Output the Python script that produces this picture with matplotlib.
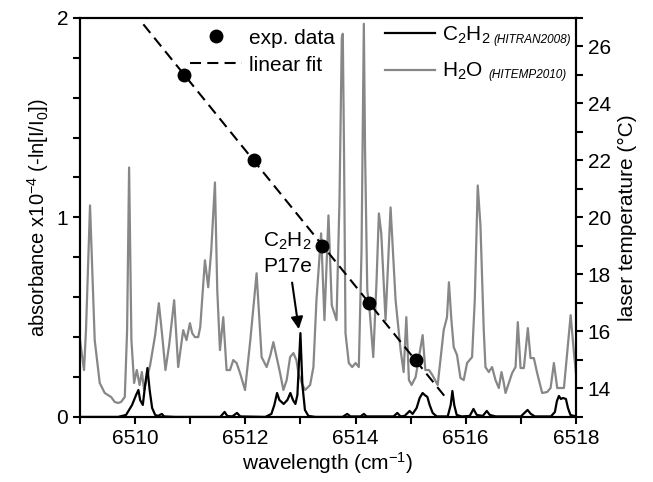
import numpy as np
import matplotlib
matplotlib.use("Agg")
import matplotlib.pyplot as plt
from matplotlib.ticker import MultipleLocator

plt.rcParams['font.family'] = ['Liberation Sans', 'DejaVu Sans']
plt.rcParams['mathtext.fontset'] = 'custom'
plt.rcParams['mathtext.rm'] = 'Liberation Sans'
plt.rcParams['mathtext.it'] = 'Liberation Sans:italic'

# H2O (HITEMP2010) simulated spectrum
h2o_nu = [6509.000, 6509.073, 6509.109, 6509.182, 6509.267, 6509.358, 6509.449, 6509.564,
          6509.631, 6509.691, 6509.745, 6509.813, 6509.855, 6509.891, 6509.933, 6509.982,
          6510.031, 6510.082, 6510.122, 6510.164, 6510.273, 6510.364, 6510.431, 6510.491,
          6510.551, 6510.618, 6510.709, 6510.782, 6510.873, 6510.933, 6510.995, 6511.036,
          6511.085, 6511.145, 6511.182, 6511.267, 6511.327, 6511.382, 6511.449, 6511.491,
          6511.540, 6511.600, 6511.660, 6511.722, 6511.782, 6511.842, 6511.904, 6511.995,
          6512.091, 6512.205, 6512.245, 6512.296, 6512.387, 6512.455, 6512.509, 6512.569,
          6512.631, 6512.691, 6512.751, 6512.813, 6512.873, 6512.927, 6512.964, 6513.024,
          6513.085, 6513.176, 6513.236, 6513.291, 6513.376, 6513.436, 6513.509, 6513.569,
          6513.655, 6513.709, 6513.751, 6513.769, 6513.791, 6513.818, 6513.878, 6513.940,
          6514.000, 6514.060, 6514.109, 6514.151, 6514.173, 6514.213, 6514.260, 6514.322,
          6514.382, 6514.424, 6514.467, 6514.545, 6514.636, 6514.727, 6514.818, 6514.873,
          6514.922, 6514.969, 6515.018, 6515.091, 6515.218, 6515.267, 6515.333, 6515.395,
          6515.491, 6515.600, 6515.660, 6515.695, 6515.740, 6515.782, 6515.842, 6515.904,
          6515.964, 6516.024, 6516.115, 6516.164, 6516.218, 6516.267, 6516.327, 6516.358,
          6516.418, 6516.478, 6516.540, 6516.600, 6516.649, 6516.691, 6516.722, 6516.782,
          6516.842, 6516.904, 6516.945, 6516.995, 6517.055, 6517.127, 6517.176, 6517.236,
          6517.296, 6517.387, 6517.478, 6517.540, 6517.600, 6517.660, 6517.782, 6517.855,
          6517.904, 6517.964, 6518.000]
h2o_abs = [0.385, 0.235, 0.435, 1.06, 0.385, 0.17, 0.12, 0.10,
           0.075, 0.07, 0.075, 0.10, 0.435, 1.25, 0.385, 0.17,
           0.235, 0.16, 0.225, 0.135, 0.26, 0.41, 0.57, 0.41,
           0.235, 0.36, 0.585, 0.25, 0.435, 0.385, 0.47, 0.42,
           0.40, 0.40, 0.45, 0.785, 0.65, 0.835, 1.175, 0.635,
           0.335, 0.50, 0.235, 0.235, 0.285, 0.27, 0.22, 0.135,
           0.385, 0.72, 0.535, 0.30, 0.25, 0.31, 0.375, 0.30,
           0.22, 0.135, 0.185, 0.30, 0.32, 0.285, 0.22, 0.17,
           0.135, 0.16, 0.25, 0.585, 0.92, 0.485, 1.01, 0.56,
           0.485, 1.085, 1.90, 1.92, 1.335, 0.42, 0.27, 0.25,
           0.27, 0.25, 0.835, 1.97, 1.335, 0.635, 0.52, 0.30,
           0.685, 1.02, 0.92, 0.485, 1.05, 0.585, 0.335, 0.225,
           0.50, 0.185, 0.16, 0.20, 0.41, 0.235, 0.235, 0.21,
           0.16, 0.435, 0.50, 0.675, 0.485, 0.35, 0.31, 0.195,
           0.185, 0.27, 0.30, 0.585, 1.16, 0.96, 0.435, 0.25,
           0.225, 0.25, 0.185, 0.145, 0.225, 0.17, 0.12, 0.17,
           0.22, 0.25, 0.475, 0.245, 0.245, 0.445, 0.295, 0.295,
           0.22, 0.12, 0.125, 0.145, 0.27, 0.145, 0.145, 0.36,
           0.51, 0.32, 0.22]

# C2H2 (HITRAN2008) simulated spectrum
c2h2_nu = [6509.000, 6509.691, 6509.836, 6509.945, 6510.018, 6510.060, 6510.091, 6510.140,
           6510.182, 6510.224, 6510.264, 6510.309, 6510.364, 6510.418, 6510.485, 6510.527,
           6510.727, 6511.545, 6511.624, 6511.673, 6511.764, 6511.849, 6511.909, 6512.364,
           6512.473, 6512.527, 6512.576, 6512.618, 6512.696, 6512.764, 6512.818, 6512.864,
           6512.909, 6512.945, 6513.000, 6513.036, 6513.082, 6513.145, 6513.273, 6513.764,
           6513.849, 6513.909, 6514.091, 6514.151, 6514.200, 6514.691, 6514.758, 6514.818,
           6514.891, 6514.982, 6515.036, 6515.109, 6515.164, 6515.218, 6515.255, 6515.304,
           6515.345, 6515.400, 6515.473, 6515.673, 6515.727, 6515.758, 6515.791, 6515.836,
           6515.927, 6516.073, 6516.140, 6516.200, 6516.309, 6516.382, 6516.436, 6516.545,
           6517.000, 6517.122, 6517.182, 6517.255, 6517.545, 6517.618, 6517.655, 6517.691,
           6517.727, 6517.764, 6517.818, 6517.855, 6517.900, 6518.000]
c2h2_abs = [0.0, 0.0, 0.01, 0.06, 0.11, 0.135, 0.085, 0.06,
            0.16, 0.245, 0.135, 0.045, 0.01, 0.005, 0.015, 0.0025,
            0.0, 0.0, 0.025, 0.005, 0.0025, 0.02, 0.0025, 0.0,
            0.015, 0.06, 0.12, 0.085, 0.065, 0.085, 0.12, 0.085,
            0.065, 0.11, 0.42, 0.16, 0.035, 0.005, 0.0, 0.0,
            0.015, 0.0025, 0.0025, 0.015, 0.0025, 0.0025, 0.02, 0.0025,
            0.005, 0.03, 0.015, 0.045, 0.095, 0.12, 0.11, 0.10,
            0.06, 0.02, 0.0025, 0.0025, 0.06, 0.13, 0.06, 0.01,
            0.0025, 0.005, 0.04, 0.01, 0.005, 0.03, 0.01, 0.0025,
            0.0025, 0.035, 0.015, 0.0025, 0.0025, 0.025, 0.08, 0.105,
            0.09, 0.095, 0.09, 0.045, 0.01, 0.0025]

# laser temperature vs wavelength
exp_nu = [6510.89, 6512.16, 6513.40, 6514.24, 6515.09]
exp_T = [25, 22, 19, 17, 15]
fit_range = [6510.15, 6515.67]

fig = plt.figure(figsize=(6.53, 4.82), dpi=100)
ax = fig.add_axes([0.1225, 0.135, 0.7595, 0.828])
ax2 = ax.twinx()

gray = '#878787'
l_h2o, = ax.plot(h2o_nu, h2o_abs, color=gray, lw=1.6, zorder=2)
l_c2h2, = ax.plot(c2h2_nu, c2h2_abs, color='black', lw=1.6, zorder=3)

# straight line through the temperature points
coef = np.polyfit(exp_nu, exp_T, 1)
fx = np.array(fit_range)
l_fit, = ax2.plot(fx, np.polyval(coef, fx), color='black', lw=1.5, ls=(0, (5.3, 3)))
l_exp, = ax2.plot(exp_nu, exp_T, 'o', color='black', ms=9, ls='none')

ax.set_xlim(6509, 6518)
ax.set_ylim(0, 2)
ax2.set_ylim(13, 27)

ax.xaxis.set_major_locator(MultipleLocator(2))
ax.xaxis.set_minor_locator(MultipleLocator(1))
ax.yaxis.set_major_locator(MultipleLocator(1))
ax.yaxis.set_minor_locator(MultipleLocator(0.2))
ax2.yaxis.set_major_locator(MultipleLocator(2))
ax2.yaxis.set_minor_locator(MultipleLocator(1))

for a in (ax, ax2):
    for s in a.spines.values():
        s.set_linewidth(1.5)
ax.tick_params(axis='both', which='both', direction='out', length=5, width=1.5,
               labelsize=15, top=False)
ax2.tick_params(axis='y', which='both', direction='out', length=5, width=1.5, labelsize=15)

ax.set_xlabel('wavelength (cm$^{-1}$)', fontsize=15, labelpad=2)
ax.set_ylabel('absorbance x10$^{-4}$ (-ln[I/I$_0$])', fontsize=14.5, labelpad=4)
ax2.set_ylabel('laser temperature (°C)', fontsize=15, labelpad=5)

ax.annotate('C$_2$H$_2$\nP17e', xy=(6512.97, 0.44), xytext=(6512.33, 0.82),
            ha='left', va='center', fontsize=15, linespacing=1.3,
            arrowprops=dict(arrowstyle='-|>', color='black', lw=1.5,
                            mutation_scale=18, shrinkA=3, shrinkB=0))

leg1 = ax2.legend([l_exp, l_fit], ['exp. data', 'linear fit'], loc='upper left',
                  bbox_to_anchor=(0.205, 0.9935), frameon=False, fontsize=15,
                  handlelength=2.5, handletextpad=0.33, labelspacing=0.375,
                  borderaxespad=0)
ax2.add_artist(leg1)
leg2 = ax2.legend([l_c2h2, l_h2o], ['C$_2$H$_2$', 'H$_2$O'], loc='upper left',
                  bbox_to_anchor=(0.598, 1.004), frameon=False, fontsize=15,
                  handlelength=2.4, handletextpad=0.33, labelspacing=0.73,
                  borderaxespad=0)
ax.text(0.833, 0.945, '(HITRAN2008)', transform=ax.transAxes, fontsize=8.5,
        style='italic', va='center')
ax.text(0.823, 0.857, '(HITEMP2010)', transform=ax.transAxes, fontsize=8.5,
        style='italic', va='center')

fig.savefig('out.png', dpi=100)
